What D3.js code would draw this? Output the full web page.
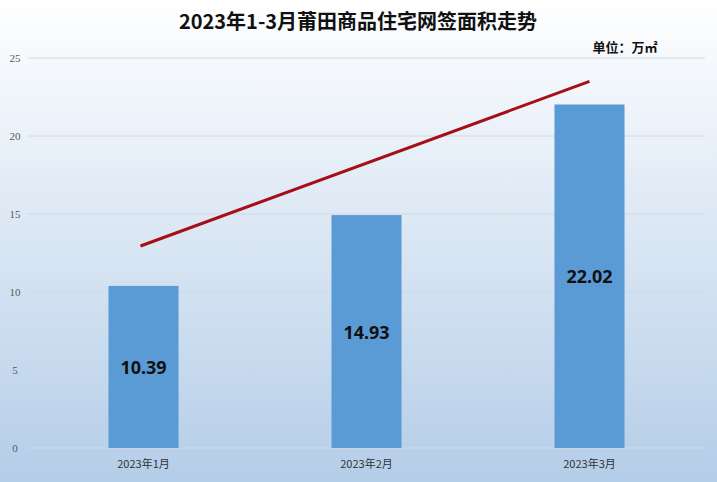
<!DOCTYPE html>
<html><head><meta charset="utf-8">
<script src="https://cdn.jsdelivr.net/npm/d3@7"></script>
<style>body{margin:0;}svg{display:block;}</style>
</head><body>
<svg id="chart" width="717" height="482"></svg>
<script>
var months = ["2023年1月", "2023年2月", "2023年3月"];
var values = [10.39, 14.93, 22.02];
var trendValues = [12.95, 23.5];
var yTicks = [0, 5, 10, 15, 20, 25];

var svg = d3.select("#chart");
var W = 717, H = 482;

var defs = svg.append("defs");
var grad = defs.append("linearGradient").attr("id", "bg").attr("x1", 0).attr("y1", 0).attr("x2", 0).attr("y2", 1);
grad.append("stop").attr("offset", "0%").attr("stop-color", "#ffffff");
grad.append("stop").attr("offset", "100%").attr("stop-color", "#b4cde8");
svg.append("rect").attr("width", W).attr("height", H).attr("fill", "url(#bg)");

var x = d3.scaleBand().domain(months).range([32, 701]).paddingInner(0.686).paddingOuter(0.343);
var y = d3.scaleLinear().domain([0, 25]).range([448, 58]);

// gridlines
svg.append("g").selectAll("line").data(yTicks).enter().append("line")
    .attr("x1", 28).attr("x2", 705)
    .attr("y1", function(d) { return y(d); }).attr("y2", function(d) { return y(d); })
    .attr("stroke", "#d0d8e2").attr("stroke-width", 1);

// y labels
svg.append("g").selectAll("text").data(yTicks).enter().append("text")
    .attr("x", 15).attr("y", function(d) { return y(d) + 4; })
    .attr("text-anchor", "middle").attr("font-family", "Liberation Serif").attr("font-size", 11)
    .attr("fill", "#595959").text(function(d) { return d; });

// bars
svg.append("g").selectAll("rect").data(values).enter().append("rect")
    .attr("x", function(d, i) { return x(months[i]); })
    .attr("width", x.bandwidth())
    .attr("y", function(d) { return y(d); })
    .attr("height", function(d) { return y(0) - y(d); })
    .attr("fill", "#5b9bd5");

// value labels
svg.append("g").selectAll("text").data(values).enter().append("text")
    .attr("x", function(d, i) { return x(months[i]) + x.bandwidth() / 2; })
    .attr("y", function(d) { return (y(d) + y(0)) / 2 + 7; })
    .attr("text-anchor", "middle").attr("font-family", "Noto Sans").attr("font-weight", "bold")
    .attr("font-size", 18).attr("fill", "#111").text(function(d) { return d.toFixed(2); });

// x labels
svg.append("g").selectAll("text").data(months).enter().append("text")
    .attr("x", function(d) { return x(d) + x.bandwidth() / 2; })
    .attr("y", 468).attr("text-anchor", "middle")
    .attr("font-family", "Noto Sans CJK SC").attr("font-size", 11).attr("fill", "#333")
    .text(function(d) { return d; });

// trend line
var cx0 = x(months[0]) + x.bandwidth() / 2 - 3, cx1 = x(months[2]) + x.bandwidth() / 2;
svg.append("line")
    .attr("x1", cx0).attr("y1", y(trendValues[0]))
    .attr("x2", cx1).attr("y2", y(trendValues[1]))
    .attr("stroke", "#a50f15").attr("stroke-width", 3);

// title
svg.append("text").attr("x", 358).attr("y", 29).attr("text-anchor", "middle")
    .attr("font-family", "Noto Sans CJK SC").attr("font-weight", "bold").attr("font-size", 20)
    .attr("fill", "#111").text("2023年1-3月莆田商品住宅网签面积走势");
svg.append("text").attr("x", 625).attr("y", 52).attr("text-anchor", "middle")
    .attr("font-family", "Noto Sans CJK SC").attr("font-weight", "bold").attr("font-size", 13)
    .attr("fill", "#111").text("单位：万㎡");
</script>
</body></html>
